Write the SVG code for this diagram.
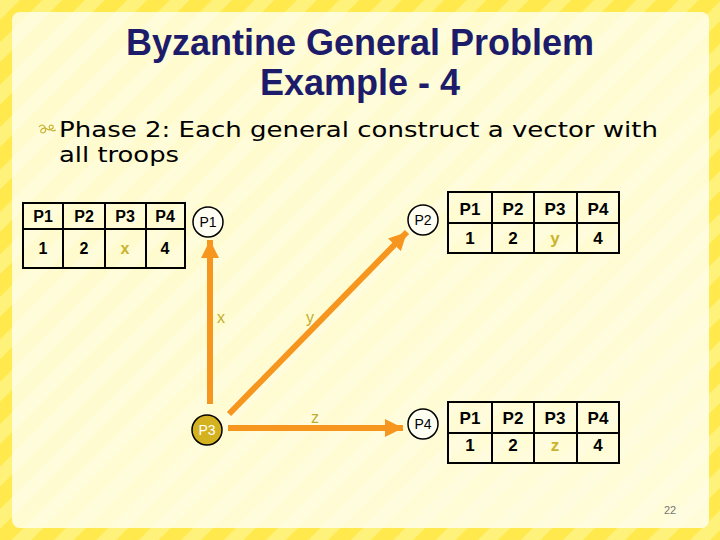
<svg xmlns="http://www.w3.org/2000/svg" width="720" height="540" viewBox="0 0 720 540">
  <defs>
    <pattern id="stripes" patternUnits="userSpaceOnUse" width="30" height="30" patternTransform="rotate(45)">
      <rect width="30" height="30" fill="#FFE94D"/>
      <rect width="14" height="30" fill="#FFF27A"/>
    </pattern>
    <pattern id="stripes2" patternUnits="userSpaceOnUse" width="30" height="30" patternTransform="rotate(45)">
      <rect width="30" height="30" fill="#FFFBCC"/>
      <rect width="14" height="30" fill="#FFFCD9"/>
    </pattern>
    <linearGradient id="panelfade" x1="0" y1="0" x2="1" y2="1">
      <stop offset="0" stop-color="#FFFDE0" stop-opacity="0"/>
      <stop offset="1" stop-color="#FFFDE6" stop-opacity="0.5"/>
    </linearGradient>
    <marker id="ah" viewBox="0 0 10 10" refX="10" refY="5" markerWidth="3" markerHeight="3" markerUnits="strokeWidth" orient="auto">
      <path d="M0,0 L10,5 L0,10 Z" fill="#F7961E"/>
    </marker>
    <style>
      .title { font-family: "Liberation Sans", Arial, sans-serif; font-weight: bold; font-size: 36px; fill: #1C1C6B; text-anchor: middle; }
      .body { font-family: "DejaVu Sans", Verdana, sans-serif; font-size: 21px; fill: #000; }
      .cell { fill: none; stroke: #000; stroke-width: 2; }
      .th { font-family: "Liberation Sans", Arial, sans-serif; font-weight: bold; font-size: 16px; text-anchor: middle; fill: #000; }
      .th2 { font-family: "Liberation Sans", Arial, sans-serif; font-weight: bold; font-size: 17px; text-anchor: middle; fill: #000; }
      .var { fill: #C9B32E; }
      .node { fill: #FFFEF2; stroke: #000; stroke-width: 1.5; }
      .nlabel { font-family: "Liberation Sans", Arial, sans-serif; font-size: 14px; text-anchor: middle; fill: #000; }
      .edge { stroke: #F7961E; stroke-width: 6; fill: none; marker-end: url(#ah); }
      .elabel { font-family: "Liberation Sans", Arial, sans-serif; font-size: 16px; fill: #C2AE2C; }
    </style>
  </defs>

  <!-- background -->
  <rect width="720" height="540" fill="url(#stripes)"/>
  <rect x="12" y="12" width="697" height="516" rx="8" fill="url(#stripes2)"/>
  <rect x="12" y="12" width="697" height="516" rx="8" fill="url(#panelfade)"/>

  <!-- title -->
  <text class="title" x="360" y="55">Byzantine General Problem</text>
  <text class="title" x="360" y="95">Example - 4</text>

  <!-- bullet -->
  <path d="M39,127 q3,-4 6,0 q2,5 -2,6 q-3,0 -2,-3 q2,-3 6,-1 q3,2 6,-1 q1,-3 -2,-3 q-3,1 -1,4 q2,3 6,1" fill="none" stroke="#C9B32E" stroke-width="1.2"/>
  <text class="body" x="59" y="137" textLength="599" lengthAdjust="spacingAndGlyphs">Phase 2: Each general construct a vector with</text>
  <text class="body" x="59" y="162" textLength="120" lengthAdjust="spacingAndGlyphs">all troops</text>

  <!-- connectors -->
  <g id="connectors">
    <line class="edge" x1="210" y1="404" x2="210" y2="240"/>
    <line class="edge" x1="229" y1="414" x2="407" y2="232"/>
    <line class="edge" x1="228" y1="428" x2="403" y2="428"/>
    <text class="elabel" x="217" y="323">x</text>
    <text class="elabel" x="306" y="323">y</text>
    <text class="elabel" x="311" y="423">z</text>
  </g>

  <!-- P1 node + vector -->
  <g id="P1">
    <circle class="node" cx="208" cy="222" r="15"/>
    <text class="nlabel" x="208" y="227">P1</text>
  </g>
  <g id="table1">
    <rect class="cell" x="23" y="203" width="162" height="65"/>
    <line class="cell" x1="23" y1="229" x2="185" y2="229"/>
    <line class="cell" x1="63" y1="203" x2="63" y2="268"/>
    <line class="cell" x1="105" y1="203" x2="105" y2="268"/>
    <line class="cell" x1="146" y1="203" x2="146" y2="268"/>
    <text class="th" x="43" y="222">P1</text>
    <text class="th" x="84" y="222">P2</text>
    <text class="th" x="125" y="222">P3</text>
    <text class="th" x="165" y="222">P4</text>
    <text class="th" x="43" y="254">1</text>
    <text class="th" x="84" y="254">2</text>
    <text class="th var" x="125" y="254">x</text>
    <text class="th" x="165" y="254">4</text>
  </g>

  <!-- P2 node + vector -->
  <g id="P2">
    <circle class="node" cx="423" cy="220" r="15"/>
    <text class="nlabel" x="423" y="225">P2</text>
  </g>
  <g id="table2">
    <rect class="cell" x="448" y="192" width="171" height="61"/>
    <line class="cell" x1="448" y1="223" x2="619" y2="223"/>
    <line class="cell" x1="492" y1="192" x2="492" y2="253"/>
    <line class="cell" x1="534" y1="192" x2="534" y2="253"/>
    <line class="cell" x1="577" y1="192" x2="577" y2="253"/>
    <text class="th2" x="470" y="215">P1</text>
    <text class="th2" x="513" y="215">P2</text>
    <text class="th2" x="555" y="215">P3</text>
    <text class="th2" x="598" y="215">P4</text>
    <text class="th2" x="470" y="244">1</text>
    <text class="th2" x="513" y="244">2</text>
    <text class="th2 var" x="555" y="244">y</text>
    <text class="th2" x="598" y="244">4</text>
  </g>

  <!-- P3 node -->
  <g id="P3">
    <circle cx="207" cy="430" r="15" fill="#D4B11E" stroke="#000" stroke-width="1.5"/>
    <text class="nlabel" x="207" y="435" style="fill:#FFFFFF">P3</text>
  </g>

  <!-- P4 node + vector -->
  <g id="P4">
    <circle class="node" cx="423" cy="424" r="15"/>
    <text class="nlabel" x="423" y="429">P4</text>
  </g>
  <g id="table3">
    <rect class="cell" x="448" y="402" width="171" height="61"/>
    <line class="cell" x1="448" y1="433" x2="619" y2="433"/>
    <line class="cell" x1="492" y1="402" x2="492" y2="463"/>
    <line class="cell" x1="534" y1="402" x2="534" y2="463"/>
    <line class="cell" x1="577" y1="402" x2="577" y2="463"/>
    <text class="th2" x="470" y="424">P1</text>
    <text class="th2" x="513" y="424">P2</text>
    <text class="th2" x="555" y="424">P3</text>
    <text class="th2" x="598" y="424">P4</text>
    <text class="th2" x="470" y="451">1</text>
    <text class="th2" x="513" y="451">2</text>
    <text class="th2 var" x="555" y="451">z</text>
    <text class="th2" x="598" y="451">4</text>
  </g>

  <!-- page number -->
  <text x="664" y="514" font-family="Liberation Sans, Arial, sans-serif" font-size="11" fill="#777">22</text>
</svg>
